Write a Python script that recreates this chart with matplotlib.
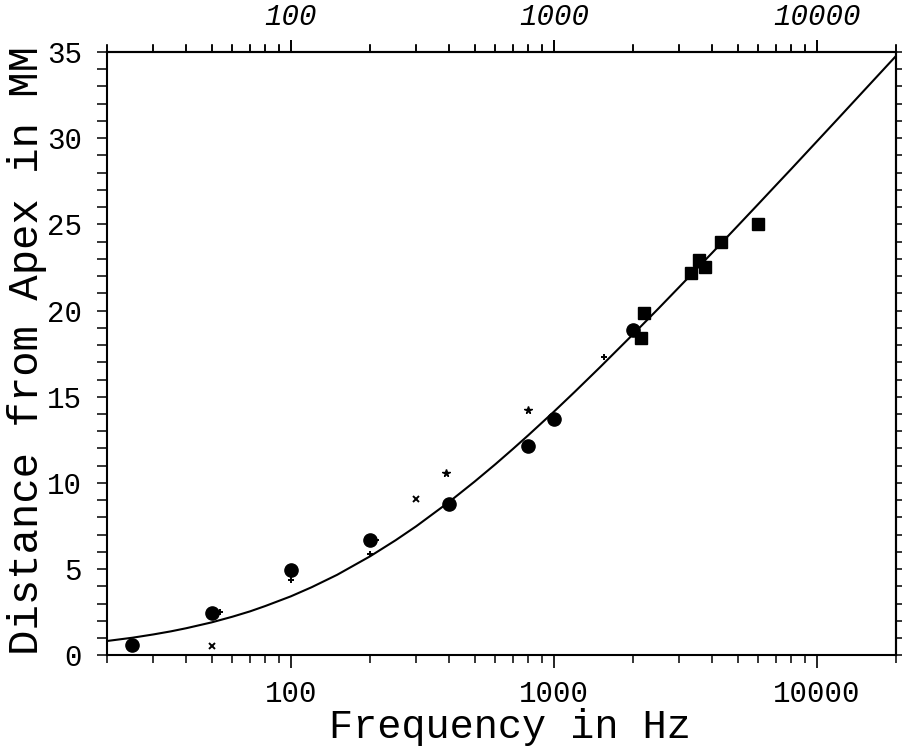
import matplotlib
matplotlib.use("Agg")
import matplotlib.pyplot as plt
from matplotlib.ticker import FixedLocator, FixedFormatter, LogLocator, NullFormatter, MultipleLocator

# Place-frequency map of the cochlea: fitted curve
curve_freq_hz = [20, 25, 30, 35, 40, 50, 60, 70, 80, 100, 120, 150, 200, 250,
                 300, 400, 500, 600, 700, 800, 1000, 1200, 1500, 2000, 2500,
                 3000, 4000, 5000, 6000, 7000, 8000, 10000, 12000, 15000, 20000]
curve_dist_mm = [0.83, 1.02, 1.21, 1.39, 1.57, 1.91, 2.24, 2.55, 2.86, 3.42,
                 3.95, 4.67, 5.74, 6.67, 7.49, 8.90, 10.08, 11.09, 11.98, 12.77,
                 14.13, 15.28, 16.72, 18.62, 20.12, 21.37, 23.35, 24.91, 26.19,
                 27.28, 28.22, 29.81, 31.11, 32.71, 34.77]

# Measured points, grouped by symbol
circle_freq = [25, 50, 100, 200, 400, 800, 1000, 2000]
circle_dist = [0.60, 2.47, 4.95, 6.69, 8.78, 12.14, 13.71, 18.87]

square_freq = [2200, 2150, 3330, 3570, 3770, 4330, 5980]
square_dist = [19.86, 18.40, 22.17, 22.93, 22.52, 23.97, 25.02]

cross_freq = [50, 300]
cross_dist = [0.54, 9.07]

plus_freq = [54, 100, 200, 210, 1550]
plus_dist = [2.50, 4.37, 5.87, 6.70, 17.32]

star_freq = [390, 800]
star_dist = [10.56, 14.23]

x_major = [100, 1000, 10000]
x_major_labels = ["100", "1000", "10000"]
y_major = [0, 5, 10, 15, 20, 25, 30, 35]

FONT = "Liberation Mono"

fig = plt.figure(figsize=(9.02, 7.55), dpi=100)
ax = fig.add_axes([107 / 902, 1 - 655.3 / 755, 789 / 902, 603.3 / 755])

ax.plot(curve_freq_hz, curve_dist_mm, color="black", lw=1.5, zorder=2)
ax.plot(circle_freq, circle_dist, "o", color="black", ms=9.5, zorder=3)
ax.plot(square_freq, square_dist, "s", color="black", ms=8, zorder=3)
ax.plot(cross_freq, cross_dist, "x", color="black", ms=4, mew=1.4, zorder=3)
ax.plot(plus_freq, plus_dist, "+", color="black", ms=5, mew=1.4, zorder=3)
ax.plot(star_freq, star_dist, "*", color="black", ms=5.5, zorder=3)

ax.set_xscale("log")
ax.set_xlim(20, 20000)
ax.set_ylim(0, 35)

for s in ax.spines.values():
    s.set_linewidth(1.5)

# x axis: decades labelled, minor ticks at 2..9
ax.xaxis.set_major_locator(FixedLocator(x_major))
ax.xaxis.set_major_formatter(FixedFormatter(x_major_labels))
ax.xaxis.set_minor_locator(LogLocator(base=10, subs=range(2, 10)))
ax.xaxis.set_minor_formatter(NullFormatter())
ax.tick_params(axis="x", which="major", direction="out", length=9, width=1.2,
               top=True, pad=9, labelsize=21)
ax.tick_params(axis="x", which="minor", direction="out", length=5.5, width=1.1,
               top=True)
for lbl in ax.get_xticklabels():
    lbl.set_fontfamily(FONT)

# top labels in italic
top = ax.secondary_xaxis("top")
top.xaxis.set_major_locator(FixedLocator(x_major))
top.xaxis.set_major_formatter(FixedFormatter(x_major_labels))
top.xaxis.set_minor_locator(LogLocator(base=10, subs=range(2, 10)))
top.xaxis.set_minor_formatter(NullFormatter())
top.tick_params(axis="x", which="major", length=9, width=1.2, pad=6, labelsize=21)
top.tick_params(axis="x", which="minor", length=5, width=1.1)
top.spines["top"].set_linewidth(1.5)
for lbl in top.get_xticklabels():
    lbl.set_fontfamily(FONT)
    lbl.set_fontstyle("italic")

# y axis: labels every 5 mm, ticks every 1 mm
ax.yaxis.set_major_locator(FixedLocator(y_major))
ax.yaxis.set_minor_locator(MultipleLocator(1))
ax.tick_params(axis="y", which="both", direction="out", length=7, width=1.1,
               left=True, right=False, pad=11, labelsize=21)
for lbl in ax.get_yticklabels():
    lbl.set_fontfamily(FONT)

right = ax.secondary_yaxis("right")
right.yaxis.set_major_locator(MultipleLocator(1))
right.yaxis.set_major_formatter(NullFormatter())
right.tick_params(axis="y", which="major", length=4.5, width=1.1)
right.spines["right"].set_linewidth(1.5)

ax.set_xlabel("Frequency in Hz", fontfamily=FONT, fontsize=29)
ax.xaxis.label.set_va("center")
ax.xaxis.set_label_coords(0.511, -0.119)
ax.set_ylabel("Distance from Apex in MM", fontfamily=FONT, fontsize=30.5)
ax.yaxis.label.set_va("center")
ax.yaxis.set_label_coords(-0.101, 0.506)

fig.savefig("out.png", dpi=100)
